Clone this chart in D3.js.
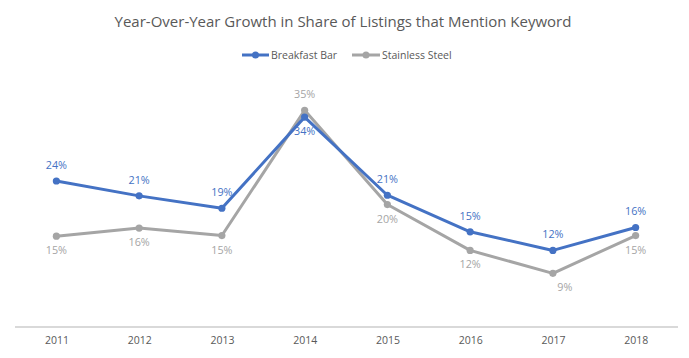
<!DOCTYPE html>
<html><head><meta charset="utf-8">
<script src="https://cdn.jsdelivr.net/npm/d3@7"></script>
<style>body{margin:0;background:#fff;}svg{display:block;font-family:"Open Sans","Noto Sans",sans-serif;}</style>
</head><body><svg id="c" width="689" height="358"></svg>
<script>
const years = ["2011","2012","2013","2014","2015","2016","2017","2018"];
const breakfastBar = [23.6, 21.2, 19.2, 33.9, 21.3, 15.4, 12.4, 16.1];
const stainlessSteel = [14.7, 16.0, 14.8, 35.0, 19.8, 12.4, 8.7, 14.8];
const seriesNames = ["Breakfast Bar", "Stainless Steel"];
const colors = ["#4472C4", "#A5A5A5"];
const title = "Year-Over-Year Growth in Share of Listings that Mention Keyword";

const svg = d3.select("#c");
const x = d3.scalePoint().domain(years).range([15, 677]).padding(0.5);
const y = d3.scaleLinear().domain([0, 40]).range([327.3, 79.3]);

svg.append("text").attr("x", 343).attr("y", 27).attr("text-anchor", "middle")
  .attr("fill", "#595959").attr("font-size", 15).attr("font-weight", 400).text(title);

// axis
const ax = svg.append("g").attr("transform", "translate(0,327)")
  .call(d3.axisBottom(x).tickSize(0).tickPadding(10));
ax.select(".domain").attr("stroke", "#D9D9D9").attr("stroke-width", 2).attr("d", "M15,0H678");
ax.selectAll("text").attr("fill", "#595959").attr("font-size", 10.5).attr("font-family", "Open Sans, sans-serif");

const data = [breakfastBar, stainlessSteel];
// label offsets: above(-1)/below(+1)
const blueDy = [-1,-1,-1,1,-1,-1,-1,-1];
const grayDy = [1,1,1,-1,1,1,1,1];
const grayDx = [0,0,0,0,0,0,12,0];
const dys = [blueDy, grayDy];
const dxs = [[0,0,0,0,0,0,0,0], grayDx];

const line = d3.line().x((d,i)=>x(years[i])).y(d=>y(d));
[1,0].forEach(s => {
  svg.append("path").datum(data[s]).attr("d", line).attr("fill","none")
    .attr("stroke", colors[s]).attr("stroke-width", 3).attr("stroke-linejoin","round");
  svg.selectAll(null).data(data[s]).enter().append("circle")
    .attr("cx",(d,i)=>x(years[i])).attr("cy", d=>y(d)).attr("r", 3.6).attr("fill", colors[s]);
});
[0,1].forEach(s => {
  svg.selectAll(null).data(data[s]).enter().append("text")
    .attr("x",(d,i)=>x(years[i]) + dxs[s][i])
    .attr("y",(d,i)=>y(d) + (dys[s][i] < 0 ? -12 : 18))
    .attr("text-anchor","middle").attr("font-size", 10.8).attr("fill", colors[s])
    .text(d=>Math.round(d)+"%");
});

// legend
const lg = svg.append("g");
const items = [{x:242, w:27}, {x:352, w:28}];
seriesNames.forEach((n,i)=>{
  const it = items[i];
  lg.append("line").attr("x1", it.x).attr("x2", it.x+it.w).attr("y1",55).attr("y2",55)
    .attr("stroke", colors[i]).attr("stroke-width",3);
  lg.append("circle").attr("cx", it.x+it.w/2).attr("cy",55).attr("r",3.5).attr("fill",colors[i]);
  lg.append("text").attr("x", it.x+it.w+2).attr("y", 59).attr("font-size",10.5)
    .attr("fill","#595959").text(n);
});
</script></body></html>
